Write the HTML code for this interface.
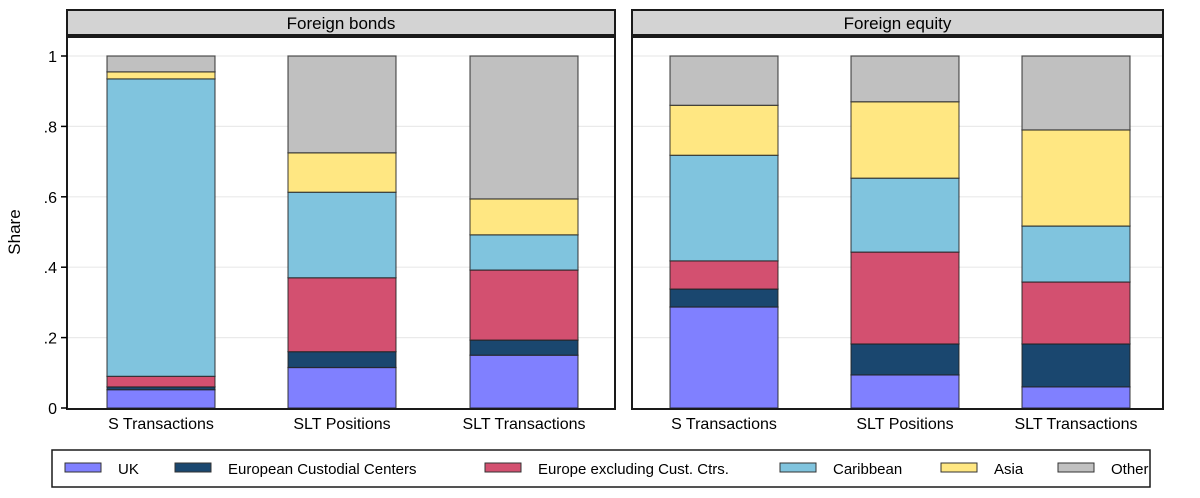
<!DOCTYPE html>
<html><head><meta charset="utf-8">
<style>
html,body{margin:0;padding:0;background:#fff;}
svg{display:block;font-family:"Liberation Sans",Arial,sans-serif;}
</style></head>
<body>
<svg id="chart" width="1200" height="498" viewBox="0 0 1200 498">
</svg>
<script>
const categories = ["S Transactions","SLT Positions","SLT Transactions"];
const seriesNames = ["UK","European Custodial Centers","Europe excluding Cust. Ctrs.","Caribbean","Asia","Other"];
const bondsUK = [0.052,0.115,0.150];
const bondsECC = [0.008,0.045,0.043];
const bondsEurope = [0.030,0.210,0.199];
const bondsCaribbean = [0.845,0.243,0.100];
const bondsAsia = [0.020,0.112,0.102];
const bondsOther = [0.045,0.275,0.406];
const equityUK = [0.287,0.094,0.060];
const equityECC = [0.051,0.088,0.122];
const equityEurope = [0.080,0.261,0.176];
const equityCaribbean = [0.300,0.210,0.159];
const equityAsia = [0.142,0.217,0.273];
const equityOther = [0.140,0.130,0.210];
const yTicks = [0,0.2,0.4,0.6,0.8,1];
const yTickLabels = ["0",".2",".4",".6",".8","1"];

const colors = ["#8080ff","#1a476f","#d35070","#80c4de","#ffe782","#c0c0c0"];
const NS = "http://www.w3.org/2000/svg";
const svg = document.getElementById("chart");
function mk(tag, attrs, parent){const e=document.createElementNS(NS,tag);for(const k in attrs)e.setAttribute(k,attrs[k]);(parent||svg).appendChild(e);return e;}
const y0=408, y1=56;
function yScale(v){return y0-(y0-y1)*v;}

const panels = [
 {title:"Foreign bonds", name:"foreign-bonds", x0:67, x1:615, bars:[161,342,524], series:[bondsUK,bondsECC,bondsEurope,bondsCaribbean,bondsAsia,bondsOther]},
 {title:"Foreign equity", name:"foreign-equity", x0:632, x1:1163, bars:[724,905,1076], series:[equityUK,equityECC,equityEurope,equityCaribbean,equityAsia,equityOther]}
];
const barW = 108;

panels.forEach(p=>{
  const g = mk("g",{});
  
  
  const h = mk("rect",{x:p.x0,y:10,width:p.x1-p.x0,height:25,fill:"#d3d3d3",stroke:"#1a1a1a","stroke-width":2},g);
  
  
  const ht = mk("text",{x:(p.x0+p.x1)/2,y:29,"text-anchor":"middle","font-size":17,fill:"#000"},g);
  ht.textContent = p.title;
  
  
  const box = mk("rect",{x:p.x0,y:37,width:p.x1-p.x0,height:y0+1-37,fill:"#fff",stroke:"none"},g);
  
  
  yTicks.forEach(t=>{
    if(t===0) return;
    const gl = mk("line",{x1:p.x0,x2:p.x1,y1:yScale(t),y2:yScale(t),stroke:"#eaeaea","stroke-width":1.2},g);
    
    
  });
  p.bars.forEach((cx,ci)=>{
    let cum=0;
    p.series.forEach((arr,si)=>{
      const v=arr[ci];
      const yt=yScale(cum+v), yb=yScale(cum);
      const r = mk("rect",{x:cx-barW/2,y:yt,width:barW,height:yb-yt,fill:colors[si],stroke:"#222","stroke-width":1.2,"stroke-opacity":0.75},g);
      
      
      cum+=v;
    });
    const lbl = mk("text",{x:cx,y:429,"text-anchor":"middle","font-size":16,fill:"#000"},g);
    lbl.textContent = categories[ci];
    
    
  });
  const frame = mk("rect",{x:p.x0,y:37,width:p.x1-p.x0,height:y0+1-37,fill:"none",stroke:"#1a1a1a","stroke-width":2},g);
  
  
});

yTicks.forEach((t,i)=>{
  const tk = mk("line",{x1:61,x2:67,y1:yScale(t),y2:yScale(t),stroke:"#000","stroke-width":1.5});
  
  
  const tl = mk("text",{x:57,y:yScale(t)+6,"text-anchor":"end","font-size":16,fill:"#000"});
  tl.textContent = yTickLabels[i];
  
  
});
const yt = mk("text",{x:0,y:0,"text-anchor":"middle","font-size":17,fill:"#000",transform:"translate(20,232) rotate(-90)"});
yt.textContent = "Share";



const lg = mk("g",{});


const lb = mk("rect",{x:52,y:450,width:1098,height:37,fill:"#fff",stroke:"#1a1a1a","stroke-width":1.5},lg);


const swX = [65,175,485,780,941,1058];
seriesNames.forEach((n,i)=>{
  const s = mk("rect",{x:swX[i],y:463,width:36,height:9,fill:colors[i],stroke:"#333","stroke-width":1},lg);
  
  
  const t = mk("text",{x:swX[i]+53,y:474,"font-size":15,fill:"#000"},lg);
  t.textContent = n;
  
  
});
</script>
</body></html>
